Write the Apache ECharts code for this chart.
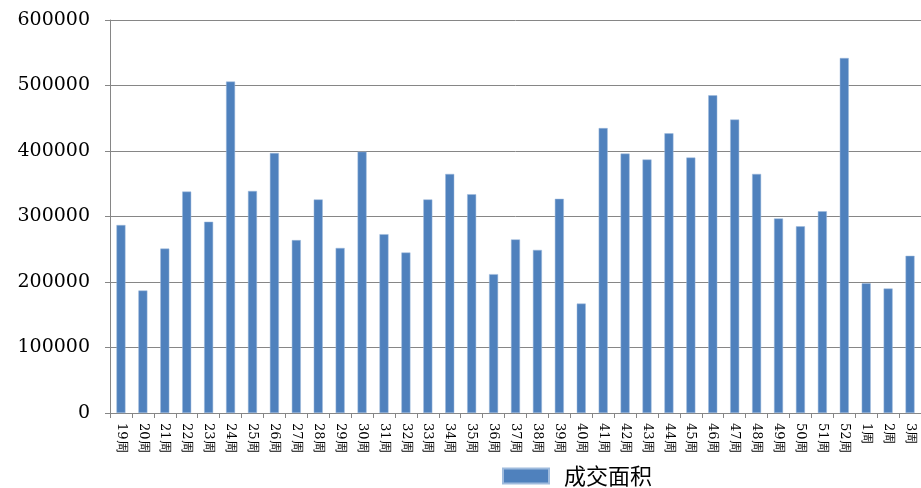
<!DOCTYPE html>
<html>
<head>
<meta charset="utf-8">
<script src="https://cdn.jsdelivr.net/npm/echarts@6/dist/echarts.min.js"></script>
<style>html,body{margin:0;padding:0;background:#fff;}#c{width:921px;height:488px;}</style>
</head>
<body>
<div id="c"></div>
<script>
var categories = ['19周','20周','21周','22周','23周','24周','25周','26周','27周','28周','29周','30周','31周','32周','33周','34周','35周','36周','37周','38周','39周','40周','41周','42周','43周','44周','45周','46周','47周','48周','49周','50周','51周','52周','1周','2周','3周'];
var dealArea = [287000,187000,251000,338000,292000,506000,339000,397000,264000,326000,252000,399000,273000,245000,326000,365000,334000,212000,265000,249000,327000,167000,435000,396000,387000,427000,390000,485000,448000,365000,297000,285000,308000,542000,198000,190000,240000];
var seriesName = '成交面积';
var yMin = 0, yMax = 600000, yStep = 100000;

var chart = echarts.init(document.getElementById('c'));
chart.setOption({
  animation: false,
  backgroundColor: '#fff',
  grid: {left: 110, top: 20, bottom: 75, right: -4, containLabel: false},
  legend: {
    data: [seriesName],
    left: 502, top: 464, padding: 0,
    itemWidth: 46, itemHeight: 15, icon: 'rect',
    textStyle: {fontFamily: 'Noto Sans CJK SC', fontSize: 22, lineHeight: 24, color: '#000', padding: [0,0,0,10]}
  },
  xAxis: {
    type: 'category',
    data: categories,
    boundaryGap: true,
    axisLine: {lineStyle: {color: '#868686', width: 1}},
    axisTick: {show: true, length: 5, alignWithLabel: false, lineStyle: {color: '#868686'}},
    axisLabel: {rotate: -90, interval: 0, margin: 10, fontFamily: 'DejaVu Serif', fontSize: 13, color: '#000'}
  },
  yAxis: {
    type: 'value',
    min: yMin, max: yMax, interval: yStep,
    axisLine: {show: true, lineStyle: {color: '#868686', width: 1}},
    axisTick: {show: true, length: 5, lineStyle: {color: '#868686'}},
    axisLabel: {margin: 20, fontFamily: 'DejaVu Serif', fontSize: 19, color: '#000', formatter: function (v) { return String(v); }},
    splitLine: {show: true, lineStyle: {color: '#868686', width: 1}}
  },
  series: [{
    name: seriesName,
    type: 'bar',
    data: dealArea,
    barWidth: 9,
    itemStyle: {color: '#4F81BD', borderColor: '#9fbbdd', borderWidth: 0.5}
  }]
});
</script>
</body>
</html>
